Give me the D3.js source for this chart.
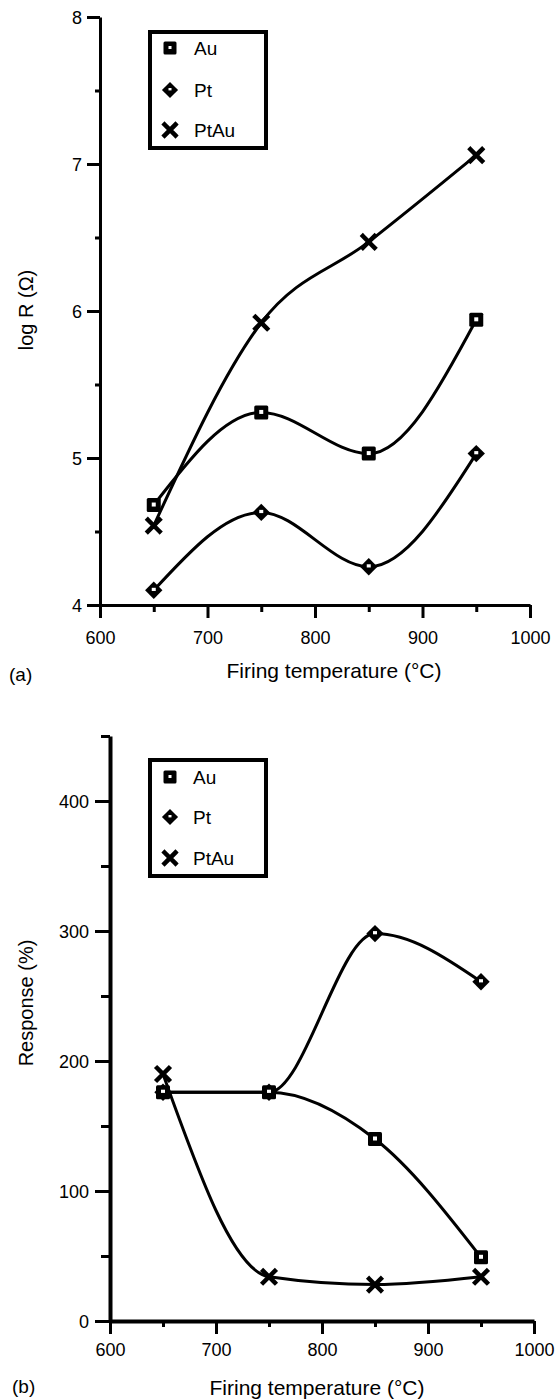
<!DOCTYPE html>
<html>
<head>
<meta charset="utf-8">
<script src="https://cdn.jsdelivr.net/npm/d3@7"></script>
<style>
  html, body { margin: 0; padding: 0; background: #fff; }
  svg { display: block; font-family: "Liberation Sans", Arial, Helvetica, sans-serif; }
</style>
</head>
<body>
<svg id="chart" width="560" height="1400"></svg>
<script>
// Firing temperatures (°C) at which the films were measured
const temps = [650, 750, 850, 950];
const xMajorTicks = [600, 700, 800, 900, 1000];
const xMinorTicks = [650, 750, 850, 950];

// Panel (a): log of resistance
const logR_Au = [4.68, 5.31, 5.03, 5.94];
const logR_Pt = [4.10, 4.63, 4.26, 5.03];
const logR_PtAu = [4.54, 5.92, 6.47, 7.06];
const yMajorTicksA = [4, 5, 6, 7, 8];
const yMinorTicksA = [4.5, 5.5, 6.5, 7.5];

// Panel (b): gas response
const resp_Au = [176, 176, 140, 49];
const resp_Pt = [176, 176, 298, 261];
const resp_PtAu = [190, 34, 28, 34];
const yMajorTicksB = [0, 100, 200, 300, 400];
const yMinorTicksB = [50, 150, 250, 350, 450];

const seriesNames = ["Au", "Pt", "PtAu"];

const svg = d3.select("#chart");

// Marker shapes, drawn centred on (0,0)
function drawMarker(g, kind, s, hole) {
  if (kind === "Au") {
    g.append("rect").attr("x", -s / 2).attr("y", -s / 2).attr("width", s).attr("height", s)
      .attr("rx", 1.5).attr("fill", "#000");
    g.append("rect").attr("x", -hole / 2).attr("y", -hole / 2 - 0.5).attr("width", hole).attr("height", hole)
      .attr("fill", "#fff");
  } else if (kind === "Pt") {
    const r = s * 0.62;
    g.append("path").attr("d", `M0,${-r}L${r},0L0,${r}L${-r},0Z`).attr("fill", "#000");
    g.append("rect").attr("x", -hole / 2).attr("y", -hole / 2 - 0.5).attr("width", hole).attr("height", hole * 0.8)
      .attr("fill", "#fff");
  } else {
    const r = s * 0.42;
    g.append("path").attr("d", `M${-r},${-r}L${r},${r}M${r},${-r}L${-r},${r}`)
      .attr("stroke", "#000").attr("stroke-width", 4.5).attr("stroke-linecap", "square");
  }
}

function drawPanel(cfg) {
  const { x, y, series, yMajor, yMinor, axisWidth, tick } = cfg;
  const g = svg.append("g");

  // y axis: major ticks with labels, minor ticks unlabelled
  const yAxis = g.append("g").attr("transform", `translate(${x(600)},0)`)
    .call(d3.axisLeft(y).tickValues(yMajor).tickSizeInner(tick.yMajor).tickSizeOuter(0)
      .tickPadding(tick.yPad).tickFormat(d3.format("d")));
  const yMinorAxis = g.append("g").attr("transform", `translate(${x(600)},0)`)
    .call(d3.axisLeft(y).tickValues(yMinor).tickSizeInner(tick.yMinor).tickSizeOuter(0).tickFormat(""));
  yMinorAxis.select(".domain").remove();

  // x axis
  const xAxis = g.append("g").attr("transform", `translate(0,${y(cfg.yBase)})`)
    .call(d3.axisBottom(x).tickValues(xMajorTicks).tickSizeInner(tick.xMajor).tickSizeOuter(0)
      .tickPadding(tick.xPad).tickFormat(d3.format("d")));
  const xMinorAxis = g.append("g").attr("transform", `translate(0,${y(cfg.yBase)})`)
    .call(d3.axisBottom(x).tickValues(xMinorTicks).tickSizeInner(tick.xMinor).tickSizeOuter(0).tickFormat(""));
  xMinorAxis.select(".domain").remove();

  [yAxis, yMinorAxis, xAxis, xMinorAxis].forEach(a => {
    a.selectAll(".domain").attr("stroke", "#000").attr("stroke-width", axisWidth);
    a.selectAll(".tick line").attr("stroke", "#000").attr("stroke-width", 3);
    a.selectAll(".tick text").attr("fill", "#000").attr("font-size", 18).attr("font-family", null);
  });
  yAxis.selectAll(".tick text").attr("dy", "0.34em");

  // series lines
  const line = d3.line().x(d => x(d[0])).y(d => y(d[1])).curve(d3.curveMonotoneX);
  series.forEach(s => {
    const pts = temps.map((t, i) => [t, s.values[i]]);
    g.append("path").datum(pts).attr("d", line)
      .attr("fill", "none").attr("stroke", "#000").attr("stroke-width", 3);
  });
  series.forEach(s => {
    temps.forEach((t, i) => {
      const m = g.append("g").attr("transform", `translate(${x(t)},${y(s.values[i])})`);
      drawMarker(m, s.name, 14, 4);
    });
  });

  // legend
  const L = cfg.legend;
  g.append("rect").attr("x", L.x).attr("y", L.y).attr("width", L.w).attr("height", L.h)
    .attr("fill", "#fff").attr("stroke", "#000").attr("stroke-width", 4);
  seriesNames.forEach((name, i) => {
    const cy = L.rows[i];
    const m = g.append("g").attr("transform", `translate(${L.mx},${cy})`);
    drawMarker(m, name, 13, 3);
    g.append("text").attr("x", L.tx).attr("y", cy).attr("dy", "0.36em")
      .attr("font-size", 19).text(name);
  });

  // axis titles and panel tag
  g.append("text").attr("x", cfg.xTitle.x).attr("y", cfg.xTitle.y).attr("text-anchor", "middle")
    .attr("font-size", 21).text("Firing temperature (°C)");
  g.append("text").attr("transform", `translate(${cfg.yTitle.x},${cfg.yTitle.y}) rotate(-90)`)
    .attr("text-anchor", "middle").attr("font-size", 20).text(cfg.yTitle.text);
  g.append("text").attr("x", cfg.tag.x).attr("y", cfg.tag.y).attr("font-size", 19).text(cfg.tag.text);
}

// Panel (a)
drawPanel({
  x: d3.scaleLinear().domain([600, 1000]).range([100, 530]),
  y: d3.scaleLinear().domain([4, 8]).range([605, 17]),
  yBase: 4,
  series: [
    { name: "Au", values: logR_Au },
    { name: "Pt", values: logR_Pt },
    { name: "PtAu", values: logR_PtAu }
  ],
  yMajor: yMajorTicksA, yMinor: yMinorTicksA,
  axisWidth: 3,
  tick: { yMajor: 13, yMinor: 5, yPad: 5, xMajor: 13, xMinor: 7, xPad: 13 },
  legend: { x: 150, y: 32, w: 116, h: 116, rows: [48, 90, 130], mx: 170, tx: 194 },
  xTitle: { x: 334, y: 678 },
  yTitle: { x: 33, y: 310, text: "log R (Ω)" },
  tag: { x: 9, y: 681, text: "(a)" }
});

// Panel (b)
drawPanel({
  x: d3.scaleLinear().domain([600, 1000]).range([110, 534]),
  y: d3.scaleLinear().domain([0, 450]).range([1321, 736]),
  yBase: 0,
  series: [
    { name: "Au", values: resp_Au },
    { name: "Pt", values: resp_Pt },
    { name: "PtAu", values: resp_PtAu }
  ],
  yMajor: yMajorTicksB, yMinor: yMinorTicksB,
  axisWidth: 4,
  tick: { yMajor: 15, yMinor: 9, yPad: 6, xMajor: 13, xMinor: 6, xPad: 9 },
  legend: { x: 150, y: 760, w: 116, h: 116, rows: [777, 817, 858], mx: 170, tx: 193 },
  xTitle: { x: 317, y: 1395 },
  yTitle: { x: 33, y: 1003, text: "Response (%)" },
  tag: { x: 12, y: 1393, text: "(b)" }
});
</script>
</body>
</html>
